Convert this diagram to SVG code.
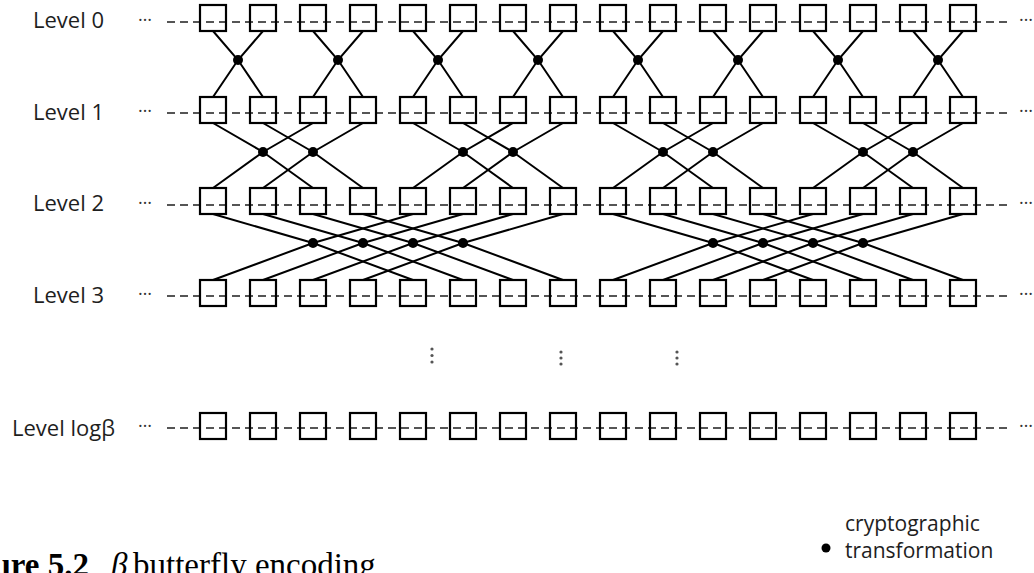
<svg xmlns="http://www.w3.org/2000/svg" width="1034" height="573" viewBox="0 0 1034 573">
<style>
.lbl{font-family:"Open Sans","Liberation Sans",sans-serif;font-size:22px;fill:#1e1e1e}
.leg{font-family:"Open Sans","Liberation Sans",sans-serif;font-size:21px;fill:#1e1e1e}
.ell{font-family:"Open Sans","Liberation Sans",sans-serif;font-size:18px;fill:#333}
.rail{stroke:#555;stroke-width:2;stroke-dasharray:8 5;fill:none}
.box{fill:none;stroke:#000;stroke-width:2.2}
.con{fill:none;stroke:#000;stroke-width:2}
.dot{fill:#000}
.vd{fill:#555}
.cap{font-family:"Liberation Serif","Times New Roman",serif;font-size:33px;fill:#000}
</style>
<rect width="1034" height="573" fill="#fff"/>
<g id="labels">
<text class="lbl" x="33" y="28">Level 0</text>
<text class="lbl" x="33" y="120">Level 1</text>
<text class="lbl" x="33" y="211">Level 2</text>
<text class="lbl" x="33" y="303">Level 3</text>
<text class="lbl" x="12" y="436">Level logβ</text>
<text class="ell" x="138" y="21">…</text>
<text class="ell" x="138" y="112">…</text>
<text class="ell" x="138" y="204">…</text>
<text class="ell" x="138" y="295">…</text>
<text class="ell" x="138" y="427">…</text>
<text class="ell" x="1019" y="21">…</text>
<text class="ell" x="1019" y="112">…</text>
<text class="ell" x="1019" y="204">…</text>
<text class="ell" x="1019" y="295">…</text>
<text class="ell" x="1019" y="427">…</text>
</g>
<g id="rails">
<line class="rail" x1="167" y1="22" x2="1008" y2="22"/>
<line class="rail" x1="167" y1="113" x2="1008" y2="113"/>
<line class="rail" x1="167" y1="205" x2="1008" y2="205"/>
<line class="rail" x1="167" y1="296" x2="1008" y2="296"/>
<line class="rail" x1="167" y1="428" x2="1008" y2="428"/>
</g>
<g id="connectors">
<path class="con" d="M213 31L238 60L263 97M263 31L238 60L213 97"/>
<path class="con" d="M313 31L338 60L363 97M363 31L338 60L313 97"/>
<path class="con" d="M413 31L438 60L463 97M463 31L438 60L413 97"/>
<path class="con" d="M513 31L538 60L563 97M563 31L538 60L513 97"/>
<path class="con" d="M613 31L638 60L663 97M663 31L638 60L613 97"/>
<path class="con" d="M713 31L738 60L763 97M763 31L738 60L713 97"/>
<path class="con" d="M813 31L838 60L863 97M863 31L838 60L813 97"/>
<path class="con" d="M913 31L938 60L963 97M963 31L938 60L913 97"/>
<path class="con" d="M213 123L263 152L313 188M313 123L263 152L213 188"/>
<path class="con" d="M263 123L313 152L363 188M363 123L313 152L263 188"/>
<path class="con" d="M413 123L463 152L513 188M513 123L463 152L413 188"/>
<path class="con" d="M463 123L513 152L563 188M563 123L513 152L463 188"/>
<path class="con" d="M613 123L663 152L713 188M713 123L663 152L613 188"/>
<path class="con" d="M663 123L713 152L763 188M763 123L713 152L663 188"/>
<path class="con" d="M813 123L863 152L913 188M913 123L863 152L813 188"/>
<path class="con" d="M863 123L913 152L963 188M963 123L913 152L863 188"/>
<path class="con" d="M213 214L313 243L413 280M413 214L313 243L213 280"/>
<path class="con" d="M263 214L363 243L463 280M463 214L363 243L263 280"/>
<path class="con" d="M313 214L413 243L513 280M513 214L413 243L313 280"/>
<path class="con" d="M363 214L463 243L563 280M563 214L463 243L363 280"/>
<path class="con" d="M613 214L713 243L813 280M813 214L713 243L613 280"/>
<path class="con" d="M663 214L763 243L863 280M863 214L763 243L663 280"/>
<path class="con" d="M713 214L813 243L913 280M913 214L813 243L713 280"/>
<path class="con" d="M763 214L863 243L963 280M963 214L863 243L763 280"/>
</g>
<g id="transforms">
<circle class="dot" cx="238" cy="60" r="5"/><circle class="dot" cx="338" cy="60" r="5"/><circle class="dot" cx="438" cy="60" r="5"/><circle class="dot" cx="538" cy="60" r="5"/>
<circle class="dot" cx="638" cy="60" r="5"/><circle class="dot" cx="738" cy="60" r="5"/><circle class="dot" cx="838" cy="60" r="5"/><circle class="dot" cx="938" cy="60" r="5"/>
<circle class="dot" cx="263" cy="152" r="5"/><circle class="dot" cx="313" cy="152" r="5"/><circle class="dot" cx="463" cy="152" r="5"/><circle class="dot" cx="513" cy="152" r="5"/>
<circle class="dot" cx="663" cy="152" r="5"/><circle class="dot" cx="713" cy="152" r="5"/><circle class="dot" cx="863" cy="152" r="5"/><circle class="dot" cx="913" cy="152" r="5"/>
<circle class="dot" cx="313" cy="243" r="5"/><circle class="dot" cx="363" cy="243" r="5"/><circle class="dot" cx="413" cy="243" r="5"/><circle class="dot" cx="463" cy="243" r="5"/>
<circle class="dot" cx="713" cy="243" r="5"/><circle class="dot" cx="763" cy="243" r="5"/><circle class="dot" cx="813" cy="243" r="5"/><circle class="dot" cx="863" cy="243" r="5"/>
</g>
<g id="level0">
<g id="n0-0"><rect class="box" x="200" y="5" width="26" height="26"/></g>
<g id="n0-1"><rect class="box" x="250" y="5" width="26" height="26"/></g>
<g id="n0-2"><rect class="box" x="300" y="5" width="26" height="26"/></g>
<g id="n0-3"><rect class="box" x="350" y="5" width="26" height="26"/></g>
<g id="n0-4"><rect class="box" x="400" y="5" width="26" height="26"/></g>
<g id="n0-5"><rect class="box" x="450" y="5" width="26" height="26"/></g>
<g id="n0-6"><rect class="box" x="500" y="5" width="26" height="26"/></g>
<g id="n0-7"><rect class="box" x="550" y="5" width="26" height="26"/></g>
<g id="n0-8"><rect class="box" x="600" y="5" width="26" height="26"/></g>
<g id="n0-9"><rect class="box" x="650" y="5" width="26" height="26"/></g>
<g id="n0-10"><rect class="box" x="700" y="5" width="26" height="26"/></g>
<g id="n0-11"><rect class="box" x="750" y="5" width="26" height="26"/></g>
<g id="n0-12"><rect class="box" x="800" y="5" width="26" height="26"/></g>
<g id="n0-13"><rect class="box" x="850" y="5" width="26" height="26"/></g>
<g id="n0-14"><rect class="box" x="900" y="5" width="26" height="26"/></g>
<g id="n0-15"><rect class="box" x="950" y="5" width="26" height="26"/></g>
</g>
<g id="level1">
<g id="n1-0"><rect class="box" x="200" y="97" width="26" height="26"/></g>
<g id="n1-1"><rect class="box" x="250" y="97" width="26" height="26"/></g>
<g id="n1-2"><rect class="box" x="300" y="97" width="26" height="26"/></g>
<g id="n1-3"><rect class="box" x="350" y="97" width="26" height="26"/></g>
<g id="n1-4"><rect class="box" x="400" y="97" width="26" height="26"/></g>
<g id="n1-5"><rect class="box" x="450" y="97" width="26" height="26"/></g>
<g id="n1-6"><rect class="box" x="500" y="97" width="26" height="26"/></g>
<g id="n1-7"><rect class="box" x="550" y="97" width="26" height="26"/></g>
<g id="n1-8"><rect class="box" x="600" y="97" width="26" height="26"/></g>
<g id="n1-9"><rect class="box" x="650" y="97" width="26" height="26"/></g>
<g id="n1-10"><rect class="box" x="700" y="97" width="26" height="26"/></g>
<g id="n1-11"><rect class="box" x="750" y="97" width="26" height="26"/></g>
<g id="n1-12"><rect class="box" x="800" y="97" width="26" height="26"/></g>
<g id="n1-13"><rect class="box" x="850" y="97" width="26" height="26"/></g>
<g id="n1-14"><rect class="box" x="900" y="97" width="26" height="26"/></g>
<g id="n1-15"><rect class="box" x="950" y="97" width="26" height="26"/></g>
</g>
<g id="level2">
<g id="n2-0"><rect class="box" x="200" y="188" width="26" height="26"/></g>
<g id="n2-1"><rect class="box" x="250" y="188" width="26" height="26"/></g>
<g id="n2-2"><rect class="box" x="300" y="188" width="26" height="26"/></g>
<g id="n2-3"><rect class="box" x="350" y="188" width="26" height="26"/></g>
<g id="n2-4"><rect class="box" x="400" y="188" width="26" height="26"/></g>
<g id="n2-5"><rect class="box" x="450" y="188" width="26" height="26"/></g>
<g id="n2-6"><rect class="box" x="500" y="188" width="26" height="26"/></g>
<g id="n2-7"><rect class="box" x="550" y="188" width="26" height="26"/></g>
<g id="n2-8"><rect class="box" x="600" y="188" width="26" height="26"/></g>
<g id="n2-9"><rect class="box" x="650" y="188" width="26" height="26"/></g>
<g id="n2-10"><rect class="box" x="700" y="188" width="26" height="26"/></g>
<g id="n2-11"><rect class="box" x="750" y="188" width="26" height="26"/></g>
<g id="n2-12"><rect class="box" x="800" y="188" width="26" height="26"/></g>
<g id="n2-13"><rect class="box" x="850" y="188" width="26" height="26"/></g>
<g id="n2-14"><rect class="box" x="900" y="188" width="26" height="26"/></g>
<g id="n2-15"><rect class="box" x="950" y="188" width="26" height="26"/></g>
</g>
<g id="level3">
<g id="n3-0"><rect class="box" x="200" y="280" width="26" height="26"/></g>
<g id="n3-1"><rect class="box" x="250" y="280" width="26" height="26"/></g>
<g id="n3-2"><rect class="box" x="300" y="280" width="26" height="26"/></g>
<g id="n3-3"><rect class="box" x="350" y="280" width="26" height="26"/></g>
<g id="n3-4"><rect class="box" x="400" y="280" width="26" height="26"/></g>
<g id="n3-5"><rect class="box" x="450" y="280" width="26" height="26"/></g>
<g id="n3-6"><rect class="box" x="500" y="280" width="26" height="26"/></g>
<g id="n3-7"><rect class="box" x="550" y="280" width="26" height="26"/></g>
<g id="n3-8"><rect class="box" x="600" y="280" width="26" height="26"/></g>
<g id="n3-9"><rect class="box" x="650" y="280" width="26" height="26"/></g>
<g id="n3-10"><rect class="box" x="700" y="280" width="26" height="26"/></g>
<g id="n3-11"><rect class="box" x="750" y="280" width="26" height="26"/></g>
<g id="n3-12"><rect class="box" x="800" y="280" width="26" height="26"/></g>
<g id="n3-13"><rect class="box" x="850" y="280" width="26" height="26"/></g>
<g id="n3-14"><rect class="box" x="900" y="280" width="26" height="26"/></g>
<g id="n3-15"><rect class="box" x="950" y="280" width="26" height="26"/></g>
</g>
<g id="levelLog">
<g id="nL-0"><rect class="box" x="200" y="413" width="26" height="26"/></g>
<g id="nL-1"><rect class="box" x="250" y="413" width="26" height="26"/></g>
<g id="nL-2"><rect class="box" x="300" y="413" width="26" height="26"/></g>
<g id="nL-3"><rect class="box" x="350" y="413" width="26" height="26"/></g>
<g id="nL-4"><rect class="box" x="400" y="413" width="26" height="26"/></g>
<g id="nL-5"><rect class="box" x="450" y="413" width="26" height="26"/></g>
<g id="nL-6"><rect class="box" x="500" y="413" width="26" height="26"/></g>
<g id="nL-7"><rect class="box" x="550" y="413" width="26" height="26"/></g>
<g id="nL-8"><rect class="box" x="600" y="413" width="26" height="26"/></g>
<g id="nL-9"><rect class="box" x="650" y="413" width="26" height="26"/></g>
<g id="nL-10"><rect class="box" x="700" y="413" width="26" height="26"/></g>
<g id="nL-11"><rect class="box" x="750" y="413" width="26" height="26"/></g>
<g id="nL-12"><rect class="box" x="800" y="413" width="26" height="26"/></g>
<g id="nL-13"><rect class="box" x="850" y="413" width="26" height="26"/></g>
<g id="nL-14"><rect class="box" x="900" y="413" width="26" height="26"/></g>
<g id="nL-15"><rect class="box" x="950" y="413" width="26" height="26"/></g>
</g>
<g id="vdots">
<circle class="vd" cx="432" cy="349" r="1.6"/><circle class="vd" cx="432" cy="355.5" r="1.6"/><circle class="vd" cx="432" cy="362" r="1.6"/>
<circle class="vd" cx="561" cy="352" r="1.6"/><circle class="vd" cx="561" cy="358" r="1.6"/><circle class="vd" cx="561" cy="364" r="1.6"/>
<circle class="vd" cx="677" cy="352" r="1.6"/><circle class="vd" cx="677" cy="358" r="1.6"/><circle class="vd" cx="677" cy="364" r="1.6"/>
</g>
<g id="caption">
<text class="cap" x="89" y="576" text-anchor="end" font-weight="bold">ure 5.2</text>
<text class="cap" x="111" y="576" font-style="italic" font-size="29">β</text>
<text class="cap" x="133" y="576">butterfly encoding</text>
</g>
<g id="legend">
<circle class="dot" cx="826" cy="548" r="4.5"/>
<text class="leg" x="845" y="531">cryptographic</text>
<text class="leg" x="845" y="558">transformation</text>
</g>
</svg>
